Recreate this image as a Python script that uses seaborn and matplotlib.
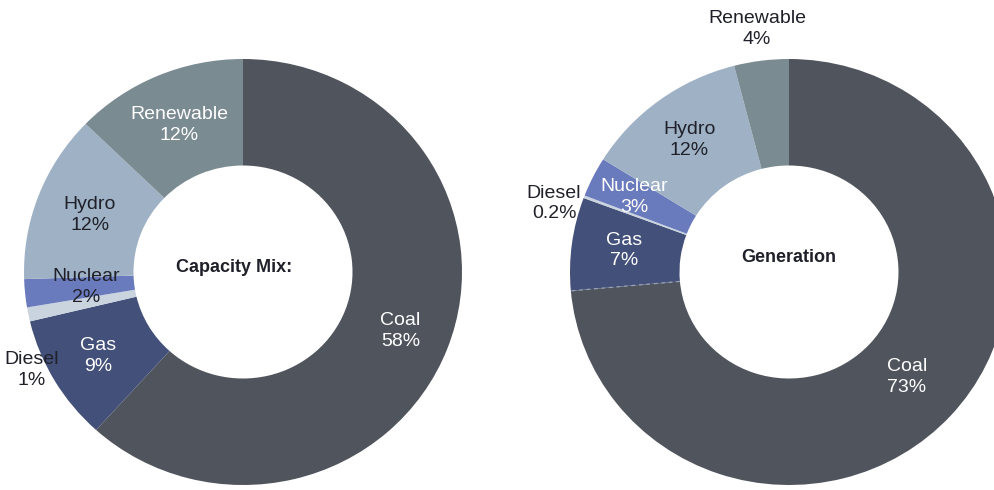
import numpy as np
import matplotlib
matplotlib.use("Agg")
import matplotlib.pyplot as plt
import seaborn as sns

# Power mix shares (%)
sources = ["Coal", "Gas", "Diesel", "Nuclear", "Hydro", "Renewable"]
capacity_share = [58, 9, 1, 2, 12, 12]
capacity_text = ["58%", "9%", "1%", "2%", "12%", "12%"]
generation_share = [73, 7, 0.2, 3, 12, 4]
generation_text = ["73%", "7%", "0.2%", "3%", "12%", "4%"]
chart_titles = ["Capacity Mix:", "Generation"]

sns.set_theme(style="white")
plt.rcParams["font.family"] = ["Liberation Sans", "DejaVu Sans"]

palette = {
    "Coal": "#50545d",
    "Gas": "#435079",
    "Diesel": "#c9d4df",
    "Nuclear": "#6a7bbd",
    "Hydro": "#9fb2c5",
    "Renewable": "#7b8b92",
}
DARK = "#1f2029"
LIGHT = "#ffffff"

# per-label placement: (radius, angular shift in degrees, text colour)
capacity_style = {
    "Coal": (0.77, 0, LIGHT),
    "Gas": (0.77, 0, LIGHT),
    "Diesel": (1.07, 14, DARK),
    "Nuclear": (0.72, 0, DARK),
    "Hydro": (0.75, 0, DARK),
    "Renewable": (0.75, 0, LIGHT),
}
generation_style = {
    "Coal": (0.73, 0, LIGHT),
    "Gas": (0.76, 0, LIGHT),
    "Diesel": (1.12, 4, DARK),
    "Nuclear": (0.79, 0, LIGHT),
    "Hydro": (0.77, 0, DARK),
    "Renewable": (1.15, 0, DARK),
}

W, H = 995, 490
fig = plt.figure(figsize=(W / 100, H / 100), dpi=100)

RX, RY = 219, 213  # outer radius in pixels (horizontal, vertical)


def donut(cx, cy, shares, texts, style, title, title_dx, title_dy, dashed_edge):
    ax = fig.add_axes([(cx - RX) / W, (H - cy - RY) / H, 2 * RX / W, 2 * RY / H])
    wedges, _ = ax.pie(
        shares,
        colors=[palette[s] for s in sources],
        startangle=90,
        counterclock=False,
        wedgeprops=dict(width=0.5, edgecolor="none", linewidth=0),
    )
    ax.set_aspect("auto")
    ax.set_xlim(-1, 1)
    ax.set_ylim(-1, 1)
    ax.axis("off")

    for w, name, txt in zip(wedges, sources, texts):
        r, shift, col = style[name]
        ang = np.deg2rad((w.theta1 + w.theta2) / 2 + shift)
        ax.text(r * np.cos(ang), r * np.sin(ang), f"{name}\n{txt}",
                ha="center", va="center", fontsize=14, color=col,
                linespacing=1.3, clip_on=False)

    if dashed_edge:
        # dashed seam between coal and gas
        ang = np.deg2rad(wedges[0].theta1)
        rr = np.array([0.5, 1.0])
        ax.plot(rr * np.cos(ang), rr * np.sin(ang), ls=(0, (3, 3)),
                color="#9aa3b5", lw=0.9)

    ax.text(title_dx, title_dy, title, ha="center", va="center",
            fontsize=13, fontweight="bold", color=DARK)
    return ax


donut(243, 272, capacity_share, capacity_text, capacity_style,
      chart_titles[0], -0.04, 0.02, False)
donut(789, 272, generation_share, generation_text, generation_style,
      chart_titles[1], 0.0, 0.07, True)

fig.savefig("out.png", dpi=100)
